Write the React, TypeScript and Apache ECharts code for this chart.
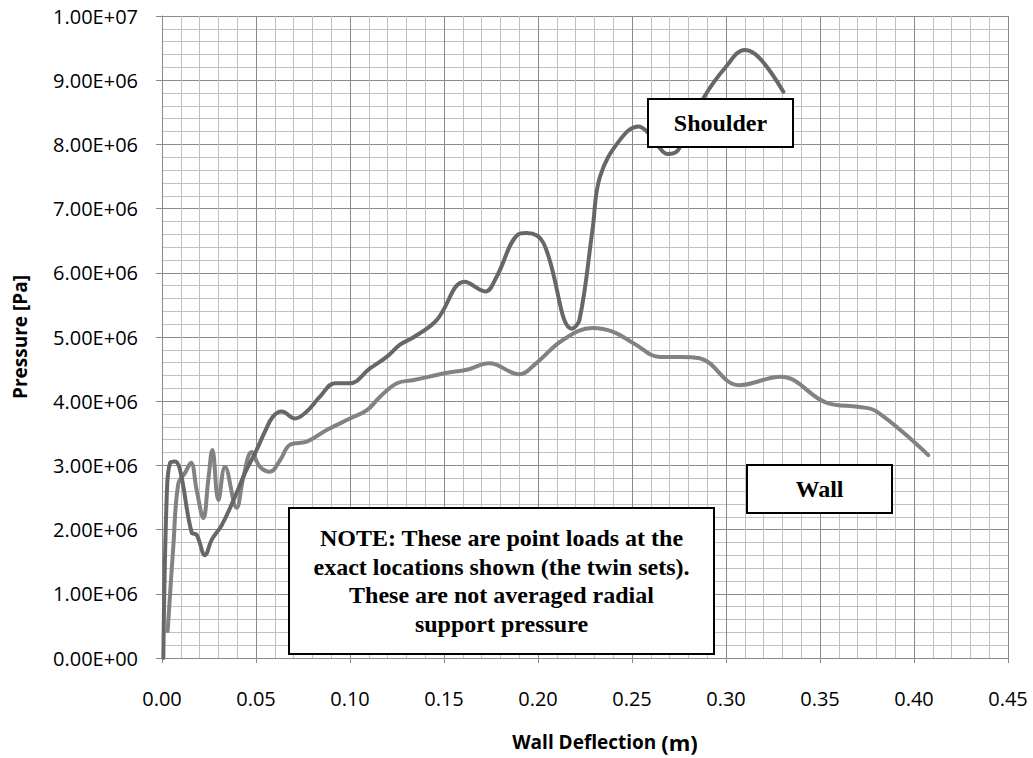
import React, { useEffect, useRef } from "react";
import * as echarts from "echarts";

const shoulderX = [0.0007, 0.0025, 0.0043, 0.0069, 0.0096, 0.0158, 0.0184, 0.0229, 0.0264, 0.0318, 0.0388, 0.0441, 0.0495, 0.0548, 0.059, 0.0637, 0.0707, 0.077, 0.084, 0.092, 0.1, 0.1106, 0.1195, 0.1266, 0.134, 0.146, 0.161, 0.172, 0.178, 0.189, 0.194, 0.203, 0.218, 0.222, 0.229, 0.233, 0.2436, 0.2534, 0.258, 0.264, 0.269, 0.2745, 0.288, 0.3, 0.31, 0.318, 0.3305];
const shoulderY = [0, 2.51e6, 3.04e6, 3.06e6, 2.93e6, 1.95e6, 1.92e6, 1.6e6, 1.84e6, 2.07e6, 2.51e6, 2.88e6, 3.19e6, 3.53e6, 3.76e6, 3.84e6, 3.73e6, 3.84e6, 4.07e6, 4.28e6, 4.28e6, 4.51e6, 4.69e6, 4.88e6, 5.0e6, 5.26e6, 5.86e6, 5.71e6, 5.94e6, 6.59e6, 6.62e6, 6.46e6, 5.13e6, 5.26e6, 6.67e6, 7.5e6, 8.07e6, 8.28e6, 8.2e6, 7.97e6, 7.85e6, 7.91e6, 8.72e6, 9.21e6, 9.47e6, 9.34e6, 8.82e6];

const wallX = [0.003, 0.006, 0.0087, 0.0122, 0.0154, 0.0184, 0.022, 0.0246, 0.0268, 0.03, 0.0335, 0.0397, 0.0433, 0.0477, 0.052, 0.0574, 0.0628, 0.068, 0.077, 0.0876, 0.1, 0.109, 0.116, 0.125, 0.134, 0.151, 0.162, 0.174, 0.19, 0.199, 0.213, 0.229, 0.24, 0.251, 0.265, 0.276, 0.286, 0.307, 0.329, 0.354, 0.371, 0.38, 0.4076];
const wallY = [0.42e6, 1.73e6, 2.72e6, 2.88e6, 3.04e6, 2.62e6, 2.18e6, 2.77e6, 3.24e6, 2.46e6, 2.98e6, 2.34e6, 2.82e6, 3.21e6, 2.98e6, 2.9e6, 3.08e6, 3.32e6, 3.37e6, 3.55e6, 3.73e6, 3.86e6, 4.07e6, 4.28e6, 4.33e6, 4.44e6, 4.49e6, 4.59e6, 4.42e6, 4.59e6, 4.95e6, 5.14e6, 5.08e6, 4.9e6, 4.69e6, 4.69e6, 4.67e6, 4.25e6, 4.38e6, 3.97e6, 3.91e6, 3.84e6, 3.16e6];

const xMin = 0;
const xMax = 0.45;
const xStep = 0.05;
const yMin = 0;
const yMax = 1e7;
const yStep = 1e6;

const shoulderLabel = "Shoulder";
const wallLabel = "Wall";
const noteLines = [
  "NOTE: These are point loads at the",
  "exact locations shown (the twin sets).",
  "These are not averaged radial",
  "support pressure",
];

function sci(v: number): string {
  if (v === 0) return "0.00E+00";
  const e = Math.floor(Math.log10(Math.abs(v)) + 1e-9);
  const m = v / Math.pow(10, e);
  const sign = e < 0 ? "-" : "+";
  const ee = String(Math.abs(e)).padStart(2, "0");
  return m.toFixed(2) + "E" + sign + ee;
}

function box(left: number, top: number, w: number, h: number, text: string, lineHeight = 28) {
  return {
    type: "group",
    left,
    top,
    z: 100,
    children: [
      {
        type: "rect",
        z: 100,
        shape: { x: 0, y: 0, width: w, height: h },
        style: { fill: "#ffffff", stroke: "#000000", lineWidth: 2 },
      },
      {
        type: "text",
        z: 101,
        x: w / 2,
        y: h / 2,
        style: {
          text,
          fill: "#000000",
          font: "bold 24px 'Liberation Serif', 'Times New Roman', serif",
          align: "center",
          verticalAlign: "middle",
          lineHeight,
        },
      },
    ],
  };
}

export default function App() {
  const ref = useRef<HTMLDivElement>(null);
  useEffect(() => {
    if (!ref.current) return;
    const chart = echarts.init(ref.current, undefined, { renderer: "svg" });
    const gridColor = "#8a8a8a";
    const minorColor = "#c0c0c0";
    chart.setOption({
      animation: false,
      backgroundColor: "#ffffff",
      grid: { left: 162, right: 25, top: 16, bottom: 100, containLabel: false, outerBoundsMode: "none" },
      xAxis: {
        type: "value",
        min: xMin,
        max: xMax,
        interval: xStep,
        name: "{a|Wall Deflection }{b|(m)}",
        nameLocation: "middle",
        nameGap: 73,
        nameTextStyle: {
          color: "#000",
          padding: [0, 0, 0, 40],
          rich: {
            a: { fontFamily: "'Open Sans'", fontWeight: "bold", fontSize: 19, color: "#000" },
            b: { fontFamily: "'Open Sans'", fontWeight: "bold", fontSize: 22, color: "#000" },
          },
        },
        axisLine: { show: true, lineStyle: { color: gridColor, width: 1 } },
        axisTick: { show: true, length: 5, lineStyle: { color: gridColor } },
        axisLabel: {
          formatter: (v: number) => v.toFixed(2),
          fontFamily: "'Open Sans'",
          fontSize: 20,
          color: "#000",
          margin: 30,
        },
        splitLine: { show: true, lineStyle: { color: gridColor, width: 1 } },
        minorTick: { show: false, splitNumber: 5 },
        minorSplitLine: { show: true, lineStyle: { color: minorColor, width: 1 } },
      },
      yAxis: {
        type: "value",
        min: yMin,
        max: yMax,
        interval: yStep,
        name: "Pressure [Pa]",
        nameLocation: "middle",
        nameGap: 133,
        nameRotate: 90,
        nameTextStyle: { fontFamily: "'Open Sans'", fontWeight: "bold", fontSize: 19, color: "#000" },
        axisLine: { show: true, lineStyle: { color: gridColor, width: 1 } },
        axisTick: { show: true, length: 6, lineStyle: { color: gridColor } },
        axisLabel: {
          formatter: (v: number) => sci(v),
          fontFamily: "'Open Sans'",
          fontSize: 20,
          color: "#000",
          margin: 24,
        },
        splitLine: { show: true, lineStyle: { color: gridColor, width: 1 } },
        minorTick: { show: false, splitNumber: 5 },
        minorSplitLine: { show: true, lineStyle: { color: minorColor, width: 1 } },
      },
      series: [
        {
          name: "Wall",
          type: "line",
          data: wallX.map((x, i) => [x, wallY[i]]),
          smooth: 0.4,
          showSymbol: false,
          symbol: "none",
          lineStyle: { color: "#828282", width: 4, cap: "round", join: "round" },
          z: 3,
        },
        {
          name: "Shoulder",
          type: "line",
          data: shoulderX.map((x, i) => [x, shoulderY[i]]),
          smooth: 0.4,
          showSymbol: false,
          symbol: "none",
          lineStyle: { color: "#676767", width: 4, cap: "round", join: "round" },
          z: 4,
        },
      ],
      graphic: [
        box(647, 98, 145, 48, shoulderLabel),
        box(746, 464, 145, 48, wallLabel),
        box(288, 507, 425, 146, noteLines.join("\n"), 28.5),
      ],
    });
    return () => chart.dispose();
  }, []);
  return <div ref={ref} style={{ position: "fixed", left: 0, top: 0, width: 1033, height: 758 }} />;
}
